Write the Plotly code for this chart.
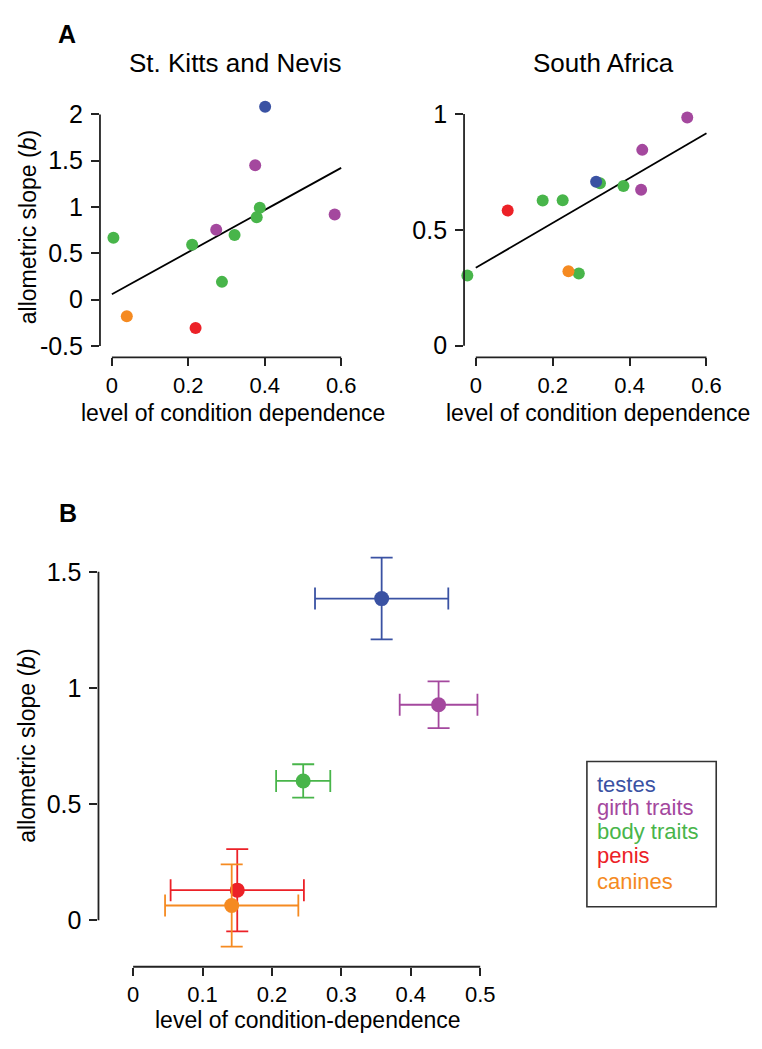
import plotly.graph_objects as go

W, H = 762, 1049
FONT = "Liberation Sans, Arial, Helvetica, sans-serif"

group_colors = {
    "testes": "#3a52a3",
    "girth traits": "#a4489e",
    "body traits": "#48b54a",
    "penis": "#ec2127",
    "canines": "#f58a21",
}
draw_order = ["body traits", "girth traits", "penis", "canines", "testes"]

# panel A, St. Kitts and Nevis
skn_group = ["testes", "girth traits", "girth traits", "girth traits",
             "body traits", "body traits", "body traits", "body traits", "body traits", "body traits",
             "canines", "penis"]
skn_x = [0.401, 0.375, 0.273, 0.583, 0.004, 0.210, 0.321, 0.387, 0.379, 0.288, 0.039, 0.219]
skn_y = [2.083, 1.451, 0.755, 0.920, 0.669, 0.594, 0.698, 0.992, 0.891, 0.192, -0.178, -0.307]
skn_fit_x = [0.0, 0.6]
skn_fit_y = [0.059, 1.423]

# panel A, South Africa
sa_group = ["girth traits", "girth traits", "girth traits", "testes",
            "body traits", "body traits", "body traits", "body traits", "body traits", "body traits",
            "penis", "canines"]
sa_x = [0.550, 0.433, 0.430, 0.313, 0.323, 0.384, 0.174, 0.226, 0.268, -0.022, 0.083, 0.241]
sa_y = [0.985, 0.845, 0.673, 0.707, 0.701, 0.689, 0.627, 0.628, 0.312, 0.303, 0.583, 0.321]
sa_fit_x = [0.0, 0.6]
sa_fit_y = [0.336, 0.917]

# panel B, means with error bars
b_groups = ["testes", "girth traits", "body traits", "penis", "canines"]
b_x = [0.358, 0.440, 0.245, 0.150, 0.142]
b_y = [1.385, 0.928, 0.600, 0.130, 0.064]
b_x_err = [0.096, 0.056, 0.039, 0.096, 0.096]
b_y_err = [0.176, 0.101, 0.072, 0.177, 0.177]


def xdom(p0, p1):
    return [p0 / W, p1 / W]


def ydom(top, bottom):
    return [1 - bottom / H, 1 - top / H]


fig = go.Figure()


def scatter_panel(groups, xs, ys, fx, fy, xa, ya):
    fig.add_trace(go.Scatter(x=fx, y=fy, mode="lines", line=dict(color="black", width=1.8),
                             xaxis=xa, yaxis=ya, showlegend=False, hoverinfo="skip"))
    for g in draw_order:
        px = [x for x, gg in zip(xs, groups) if gg == g]
        py = [y for y, gg in zip(ys, groups) if gg == g]
        fig.add_trace(go.Scatter(x=px, y=py, mode="markers", name=g, cliponaxis=False,
                                 marker=dict(color=group_colors[g], size=12),
                                 xaxis=xa, yaxis=ya, showlegend=False))


scatter_panel(skn_group, skn_x, skn_y, skn_fit_x, skn_fit_y, "x", "y")
scatter_panel(sa_group, sa_x, sa_y, sa_fit_x, sa_fit_y, "x2", "y2")

for g in ["testes", "girth traits", "body traits", "penis", "canines"]:
    i = b_groups.index(g)
    c = group_colors[g]
    fig.add_trace(go.Scatter(
        x=[b_x[i]], y=[b_y[i]], mode="markers", name=g, cliponaxis=False,
        marker=dict(color=c, size=15),
        error_x=dict(type="data", array=[b_x_err[i]], color=c, thickness=1.8, width=11),
        error_y=dict(type="data", array=[b_y_err[i]], color=c, thickness=1.8, width=11),
        xaxis="x3", yaxis="y3", showlegend=False))

axis_common = dict(showgrid=False, zeroline=False, showline=False, ticks="outside",
                   ticklen=8, tickwidth=1.8, tickcolor="#222", fixedrange=True)
xtick = dict(tickfont=dict(family=FONT, size=22, color="black"), **axis_common)
ytick = dict(tickfont=dict(family=FONT, size=25, color="black"), ticklabelstandoff=3, **axis_common)

fig.update_layout(
    xaxis=dict(domain=xdom(100.5, 354.5), range=[-0.0312, 0.63], anchor="y",
               tickvals=[0, 0.2, 0.4, 0.6], ticktext=["0", "0.2", "0.4", "0.6"], **xtick),
    yaxis=dict(domain=ydom(99.8, 357.3), range=[-0.622, 2.15], anchor="x",
               tickvals=[-0.5, 0, 0.5, 1, 1.5, 2], ticktext=["-0.5", "0", "0.5", "1", "1.5", "2"],
               **ytick),
    xaxis2=dict(domain=xdom(466.5, 721.8), range=[-0.0305, 0.63], anchor="y2",
                tickvals=[0, 0.2, 0.4, 0.6], ticktext=["0", "0.2", "0.4", "0.6"], **xtick),
    yaxis2=dict(domain=ydom(99.8, 357.3), range=[-0.05, 1.058], anchor="x2",
                tickvals=[0, 0.5, 1], ticktext=["0", "0.5", "1"], **ytick),
    xaxis3=dict(domain=xdom(99, 503.7), range=[-0.0499, 0.53], anchor="y3",
                tickvals=[0, 0.1, 0.2, 0.3, 0.4, 0.5], ticktext=["0", "0.1", "0.2", "0.3", "0.4", "0.5"],
                **xtick),
    yaxis3=dict(domain=ydom(549.2, 968.5), range=[-0.1996, 1.6], anchor="x3",
                tickvals=[0, 0.5, 1, 1.5], ticktext=["0", "0.5", "1", "1.5"], **ytick),
)

# R-style axis lines spanning only the tick range
axis_line = dict(color="#222", width=1.8)
for xa, ya, xr, yr in [("x", "y", (0, 0.6), (-0.5, 2)),
                       ("x2", "y2", (0, 0.6), (0, 1)),
                       ("x3", "y3", (0, 0.5), (0, 1.5))]:
    fig.add_shape(type="line", xref=xa + " domain", yref=ya, x0=0, x1=0, y0=yr[0], y1=yr[1], line=axis_line)
    fig.add_shape(type="line", xref=xa, yref=ya + " domain", x0=xr[0], x1=xr[1], y0=0, y1=0, line=axis_line)

# legend box
fig.add_shape(type="rect", xref="paper", yref="paper",
              x0=590 / W, x1=720 / W, y0=1 - 908.3 / H, y1=1 - 762.7 / H,
              line=dict(color="#333", width=1.6))


def note(text, px, py, size=23, bold=False, angle=0, xanchor="center", color="black"):
    fig.add_annotation(text=f"<b>{text}</b>" if bold else text, x=px / W, y=1 - py / H,
                       xref="paper", yref="paper", showarrow=False, textangle=angle,
                       xanchor=xanchor, yanchor="middle",
                       font=dict(family=FONT, size=size, color=color))


note("A", 67, 33, size=25, bold=True)
note("B", 68, 513, size=25, bold=True)
note("St. Kitts and Nevis", 236, 62, size=26)
note("South Africa", 606.5, 62, size=26)
note("allometric slope (<i>b</i>)", 28, 227, angle=-90)
note("level of condition dependence", 234, 413)
note("level of condition dependence", 601, 413)
note("allometric slope (<i>b</i>)", 27, 747, angle=-90)
note("level of condition-dependence", 310, 1022)

legend_y = [785.7, 808.5, 833, 857, 882.7]
for g, ly in zip(b_groups, legend_y):
    note(g, 598, ly, size=22, xanchor="left", color=group_colors[g])

fig.update_layout(
    width=W, height=H, autosize=False,
    margin=dict(l=0, r=0, t=0, b=0),
    paper_bgcolor="white", plot_bgcolor="white",
    showlegend=False,
)

fig.write_html("out.html", config={"displayModeBar": False},
               post_script="document.body.style.margin='0';")
